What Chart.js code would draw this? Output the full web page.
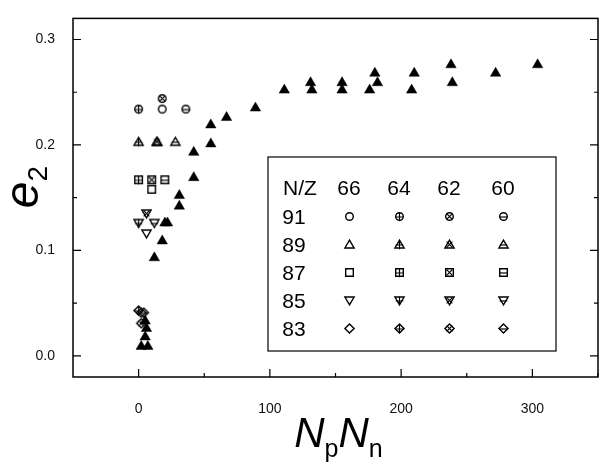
<!DOCTYPE html>
<html lang="en">
<head>
  <meta charset="UTF-8">
  <title>e2 vs NpNn</title>
  <script src="https://cdn.jsdelivr.net/npm/chart.js@4.4.1/dist/chart.umd.min.js"></script>
  <style>
    html, body { margin: 0; padding: 0; background: #fff; }
    #wrap { width: 605px; height: 462px; }
  </style>
</head>
<body>
<div id="wrap"><canvas id="chart" width="605" height="462"></canvas></div>
<script>
// filled triangles
const triX = [2, 7, 5, 6, 5, 12, 18, 20, 22, 31, 31, 42, 42, 55, 55, 67, 89, 111, 131, 132, 155, 155, 176, 180, 182, 208, 210, 238, 239, 272, 304];
const triY = [0.009, 0.009, 0.018, 0.026, 0.033, 0.093, 0.109, 0.126, 0.126, 0.142, 0.152, 0.169, 0.193, 0.201, 0.219, 0.226, 0.235,
              0.252, 0.259, 0.252, 0.259, 0.252, 0.252, 0.268, 0.259, 0.252, 0.268, 0.276, 0.259, 0.268, 0.276];

// open symbols, one list per Z column, rows N = 91, 89, 87, 85, 83
const nRows = ['91', '89', '87', '85', '83'];
const zCols = ['66', '64', '62', '60'];
const x66 = [18, 14, 10, 6, 2];
const y66 = [0.234, 0.203, 0.158, 0.116, 0.041];
const x64 = [0, 0, 0, 0, 0];
const y64 = [0.234, 0.203, 0.167, 0.126, 0.043];
const x62 = [18, 14, 10, 6, 2];
const y62 = [0.244, 0.203, 0.167, 0.135, 0.031];
const x60 = [36, 28, 20, 12, 4];
const y60 = [0.234, 0.203, 0.167, 0.126, 0.041];

const xTicks = [0, 100, 200, 300];
const xMinor = [50, 150, 250, 350];
const yTicks = [0.0, 0.1, 0.2, 0.3];
const yMinor = [0.05, 0.15, 0.25];

const rowShapes = ['circle', 'up', 'square', 'down', 'diamond'];
const colDeco = ['none', 'plus', 'cross', 'line'];

// small drawn markers
function makeSym(shape, deco) {
  const s = 13, m = 6.5, r = 3.8;
  const c = document.createElement('canvas');
  c.width = s; c.height = s;
  const g = c.getContext('2d');
  g.strokeStyle = '#000';
  g.lineWidth = 1.4;
  g.beginPath();
  if (shape === 'circle') g.arc(m, m, r, 0, Math.PI * 2);
  else if (shape === 'square') g.rect(m - r, m - r, 2 * r, 2 * r);
  else if (shape === 'up') { g.moveTo(m, m - r - 0.5); g.lineTo(m + r + 0.8, m + r - 0.3); g.lineTo(m - r - 0.8, m + r - 0.3); g.closePath(); }
  else if (shape === 'down') { g.moveTo(m, m + r + 0.5); g.lineTo(m + r + 0.8, m - r + 0.3); g.lineTo(m - r - 0.8, m - r + 0.3); g.closePath(); }
  else if (shape === 'diamond') { g.moveTo(m, m - r - 0.8); g.lineTo(m + r + 0.8, m); g.lineTo(m, m + r + 0.8); g.lineTo(m - r - 0.8, m); g.closePath(); }
  g.stroke();
  g.lineWidth = 1.2;
  g.beginPath();
  if (deco === 'plus') {
    g.moveTo(m, m - r); g.lineTo(m, m + r + 1);
    g.moveTo(m - r, m + 0.5); g.lineTo(m + r, m + 0.5);
  } else if (deco === 'cross') {
    const k = r * 0.75;
    g.moveTo(m - k, m - k); g.lineTo(m + k, m + k);
    g.moveTo(m + k, m - k); g.lineTo(m - k, m + k);
  } else if (deco === 'line') {
    g.moveTo(m - r, m + 0.5); g.lineTo(m + r, m + 0.5);
  }
  g.stroke();
  return c;
}

const symbols = colDeco.map(d => rowShapes.map(sh => makeSym(sh, d)));

function pts(xs, ys) { return xs.map((x, i) => ({ x: x, y: ys[i] })); }

const colData = [pts(x66, y66), pts(x64, y64), pts(x62, y62), pts(x60, y60)];

const datasets = colData.map((d, ci) => ({
  label: 'Z=' + zCols[ci],
  data: d,
  pointStyle: symbols[ci],
  pointRadius: 6,
  showLine: false
}));
datasets.push({
  label: 'filled',
  data: pts(triX, triY),
  pointStyle: 'triangle',
  pointRadius: 6,
  backgroundColor: '#000',
  borderColor: '#000',
  borderWidth: 0.5,
  showLine: false
});

const FONT = '"Liberation Sans", Arial, sans-serif';

// frame, inside ticks, legend box and axis titles
const decorPlugin = {
  id: 'decor',
  afterDraw(chart) {
    const ctx = chart.ctx, a = chart.chartArea;
    const xs = chart.scales.x, ys = chart.scales.y;
    ctx.save();
    ctx.strokeStyle = '#000';
    ctx.lineWidth = 1.5;
    ctx.strokeRect(a.left, a.top, a.right - a.left, a.bottom - a.top);

    ctx.lineWidth = 1.2;
    ctx.beginPath();
    xTicks.concat(xMinor).forEach(v => {
      const len = xTicks.includes(v) ? 8 : 4;
      const px = xs.getPixelForValue(v);
      ctx.moveTo(px, a.bottom); ctx.lineTo(px, a.bottom - len);
    });
    yTicks.concat(yMinor).forEach(v => {
      const len = yTicks.includes(v) ? 8 : 4;
      const py = ys.getPixelForValue(v);
      ctx.moveTo(a.left, py); ctx.lineTo(a.left + len, py);
      ctx.moveTo(a.right, py); ctx.lineTo(a.right - len, py);
    });
    ctx.stroke();

    // legend table
    ctx.fillStyle = '#fff';
    ctx.fillRect(268, 157, 288, 194);
    ctx.lineWidth = 1.2;
    ctx.strokeRect(268, 157, 288, 194);
    ctx.fillStyle = '#000';
    ctx.font = '21px ' + FONT;
    ctx.textBaseline = 'alphabetic';
    ctx.textAlign = 'left';
    ctx.fillText('N/Z', 283, 195);
    const colX = [349, 399, 449, 503];
    const rowY = [224, 252, 280, 308, 336];
    ctx.textAlign = 'center';
    zCols.forEach((z, i) => ctx.fillText(z, colX[i], 195));
    nRows.forEach((n, j) => {
      ctx.fillText(n, 294, rowY[j]);
      colX.forEach((cx, i) => {
        const s = symbols[i][j];
        ctx.drawImage(s, Math.round(cx - s.width / 2), Math.round(rowY[j] - 7.5 - s.height / 2));
      });
    });

    // y title e_2
    ctx.save();
    ctx.translate(38, 187);
    ctx.rotate(-Math.PI / 2);
    ctx.textAlign = 'left';
    ctx.font = 'italic 48px ' + FONT;
    const we = ctx.measureText('e').width;
    ctx.font = '28px ' + FONT;
    const w2 = ctx.measureText('2').width;
    const sx = -(we + w2) / 2;
    ctx.font = 'italic 48px ' + FONT;
    ctx.fillText('e', sx, 0);
    ctx.font = '28px ' + FONT;
    ctx.fillText('2', sx + we, 9);
    ctx.restore();

    // x title N_p N_n
    ctx.textAlign = 'left';
    const big = 'italic 42px ' + FONT, small = '25px ' + FONT;
    const parts = [['N', big, 0], ['p', small, 10], ['N', big, 0], ['n', small, 10]];
    let total = 0;
    parts.forEach(p => { ctx.font = p[1]; p.push(ctx.measureText(p[0]).width); total += p[3]; });
    let cx = (a.left + a.right) / 2 + 3 - total / 2;
    parts.forEach(p => { ctx.font = p[1]; ctx.fillText(p[0], cx, 447 + p[2]); cx += p[3]; });
    ctx.restore();
  }
};

new Chart(document.getElementById('chart').getContext('2d'), {
  type: 'scatter',
  data: { datasets: datasets },
  options: {
    responsive: false,
    animation: false,
    layout: { padding: { left: 0, right: 4, top: 10, bottom: 0 } },
    plugins: { legend: { display: false }, tooltip: { enabled: false } },
    scales: {
      x: {
        type: 'linear', min: -50, max: 350,
        grid: { display: false },
        border: { display: false },
        afterBuildTicks: s => { s.ticks = xTicks.map(v => ({ value: v })); },
        afterFit: s => { s.height = 85; },
        ticks: { color: '#111', font: { family: FONT, size: 14 }, padding: 16, maxRotation: 0, callback: v => String(v) }
      },
      y: {
        type: 'linear', min: -0.02, max: 0.32,
        grid: { display: false },
        border: { display: false },
        afterBuildTicks: s => { s.ticks = yTicks.map(v => ({ value: v })); },
        afterFit: s => { s.width = 73; },
        ticks: { color: '#111', font: { family: FONT, size: 14 }, padding: 10, callback: v => v.toFixed(1) }
      }
    }
  },
  plugins: [decorPlugin]
});
</script>
</body>
</html>
